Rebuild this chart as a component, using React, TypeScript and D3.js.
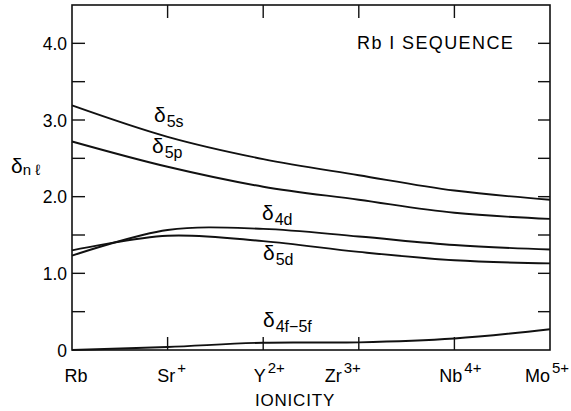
import React, { useEffect, useRef } from "react";
import * as d3 from "d3";

// ionicity sequence (x index 0..5)
const ions = ["Rb", "Sr", "Y", "Zr", "Nb", "Mo"];
const ionCharge = ["", "+", "2+", "3+", "4+", "5+"];

// quantum defects, one value per ion
const delta5s = [3.19, 2.78, 2.49, 2.28, 2.08, 1.96];
const delta5p = [2.72, 2.39, 2.13, 1.96, 1.79, 1.71];
const delta4d = [1.23, 1.565, 1.58, 1.48, 1.37, 1.31];
const delta5d = [1.3, 1.49, 1.42, 1.28, 1.17, 1.13];
const delta4f5f = [0.0, 0.04, 0.095, 0.1, 0.15, 0.27];

const yTickLabels = ["0", "1.0", "2.0", "3.0", "4.0"];

const FONT = "'Liberation Sans', Arial, sans-serif";

export default function App() {
  const ref = useRef<SVGSVGElement | null>(null);

  useEffect(() => {
    const width = 571;
    const height = 411;
    const left = 72, right = 550, top = 5, bottom = 350;

    const svg = d3.select(ref.current);
    svg.selectAll("*").remove();
    svg.attr("width", width).attr("height", height);

    const x = d3.scaleLinear().domain([0, 5]).range([left, right]);
    const y = d3.scaleLinear().domain([0, 4.5]).range([bottom, top]);

    // frame
    svg.append("rect")
      .attr("x", left).attr("y", top)
      .attr("width", right - left).attr("height", bottom - top)
      .attr("fill", "none").attr("stroke", "#111").attr("stroke-width", 1.6);

    // inward ticks
    const yt = d3.range(0.5, 4.5, 0.5);
    const g = svg.append("g").attr("stroke", "#111").attr("stroke-width", 1.4);
    yt.forEach((v) => {
      g.append("line").attr("x1", left).attr("x2", left + 13).attr("y1", y(v)).attr("y2", y(v));
      g.append("line").attr("x1", right).attr("x2", right - 12).attr("y1", y(v)).attr("y2", y(v));
    });
    d3.range(1, 5).forEach((i) => {
      g.append("line").attr("x1", x(i)).attr("x2", x(i)).attr("y1", bottom).attr("y2", bottom - 13);
      g.append("line").attr("x1", x(i)).attr("x2", x(i)).attr("y1", top).attr("y2", top + 13);
    });

    // y tick labels
    yTickLabels.forEach((t, i) => {
      svg.append("text")
        .attr("x", 67).attr("y", y(i) + 6.5)
        .attr("text-anchor", "end")
        .attr("font-family", FONT).attr("font-size", 17.5)
        .text(t);
    });

    // x tick labels
    const nudge = [4, 4, 6, -16, 6, -3];
    ions.forEach((name, i) => {
      const t = svg.append("text")
        .attr("x", x(i) + nudge[i]).attr("y", 382)
        .attr("text-anchor", "middle")
        .attr("font-family", FONT).attr("font-size", 18);
      t.append("tspan").text(name);
      if (ionCharge[i]) {
        t.append("tspan").attr("dy", -9).attr("dx", 2).attr("font-size", 15).text(ionCharge[i]);
      }
    });

    svg.append("text")
      .attr("x", 295).attr("y", 406)
      .attr("text-anchor", "middle")
      .attr("font-family", FONT).attr("font-size", 17)
      .attr("letter-spacing", 0.8)
      .text("IONICITY");

    svg.append("text")
      .attr("x", 357).attr("y", 49)
      .attr("font-family", FONT).attr("font-size", 18)
      .attr("letter-spacing", 1.4)
      .text("Rb I SEQUENCE");

    // y axis label
    const yl = svg.append("text")
      .attr("x", 11).attr("y", 173)
      .attr("font-family", FONT).attr("font-size", 21);
    yl.append("tspan").text("δ");
    yl.append("tspan").attr("dy", 2).attr("font-size", 15).text("n ℓ");

    // curves
    const line = d3.line<number>()
      .x((_, i) => x(i))
      .y((d) => y(d))
      .curve(d3.curveCatmullRom.alpha(0.5));

    [delta5s, delta5p, delta4d, delta5d, delta4f5f].forEach((s) => {
      svg.append("path")
        .attr("d", line(s))
        .attr("fill", "none")
        .attr("stroke", "#111")
        .attr("stroke-width", 1.9);
    });

    // curve labels
    const labels = [
      { sub: "5s", x: 154, y: 122 },
      { sub: "5p", x: 152, y: 153 },
      { sub: "4d", x: 262, y: 220 },
      { sub: "5d", x: 263, y: 260 },
      { sub: "4f−5f", x: 263, y: 327 },
    ];
    labels.forEach((l) => {
      const t = svg.append("text")
        .attr("x", l.x).attr("y", l.y)
        .attr("font-family", FONT).attr("font-size", 21);
      t.append("tspan").text("δ");
      t.append("tspan").attr("dy", 5).attr("dx", 1).attr("font-size", 16).text(l.sub);
    });
  }, []);

  return (
    <svg
      ref={ref}
      style={{ position: "absolute", left: 0, top: 0, background: "#fff" }}
    />
  );
}
